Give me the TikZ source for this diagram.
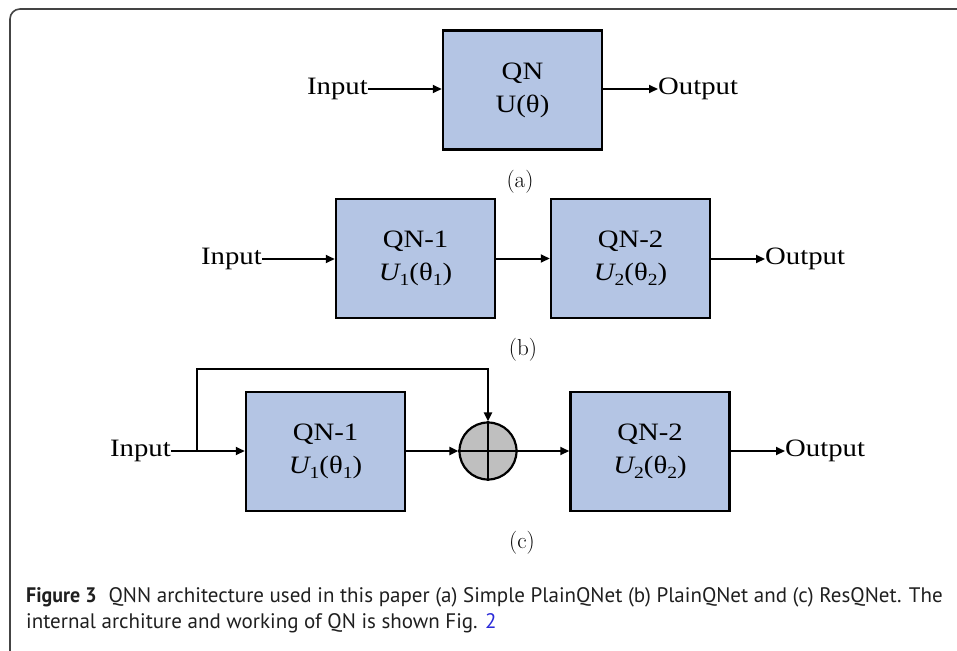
\documentclass[tikz,border=0pt]{standalone}
\usepackage{fontspec}
\usetikzlibrary{arrows.meta}
\newfontfamily\diagfont[FakeStretch=1.15]{Liberation Serif}
\newfontfamily\capfont{PT Sans}
\definecolor{qnblue}{HTML}{B4C5E4}
\definecolor{sumgray}{HTML}{BFBFBF}
\definecolor{framegray}{HTML}{444444}
\definecolor{linkblue}{HTML}{2A2AD8}
\newcommand\lowsub[1]{\raisebox{-4.5pt}{\fontsize{17}{17}\selectfont #1}}
\tikzset{
  qbox/.style={draw=black, line width=2.5pt, fill=qnblue, minimum width=159pt,
    minimum height=119pt, inner sep=0pt, align=center,
    font=\diagfont\fontsize{25}{33}\selectfont},
  term/.style={inner sep=0pt, font=\diagfont\fontsize{25}{28}\selectfont},
  sublabel/.style={inner sep=0pt, font=\fontsize{23}{26}\selectfont},
  sumnode/.style={circle, draw=black, line width=2.2pt, fill=sumgray,
    minimum size=57pt, inner sep=0pt},
  arr/.style={line width=2pt, -{Triangle[length=9pt,width=8pt]}},
  plain/.style={line width=2pt},
  captext/.style={anchor=base west, inner sep=0pt, text=black!88,
    font=\capfont\fontsize{21}{24}\selectfont},
}
\begin{document}
\begin{tikzpicture}[x=1pt,y=-1pt]
\useasboundingbox (0,0) rectangle (957,650);

% frame of the figure panel
\draw[framegray, line width=1.6pt, rounded corners=10pt] (10,655) -- (10,9) -- (962,9);

% (a) simple PlainQNet
\node[qbox] (qa) at (522.5,90) {QN\\U(θ)};
\node[term, anchor=east] (ina) at (368,89) {Input};
\node[term, anchor=west] (outa) at (658,89) {Output};
\draw[arr] (ina.east) -- (ina.east -| qa.west);
\draw[arr] (outa.west -| qa.east) -- (outa.west);
\node[sublabel] (laba) at (520,182) {(a)};

% (b) PlainQNet
\node[qbox] (qb1) at (415.5,258.5) {QN-1\\{\itshape U}\lowsub{1}(θ\lowsub{1})};
\node[qbox] (qb2) at (630.5,258.5) {QN-2\\{\itshape U}\lowsub{2}(θ\lowsub{2})};
\node[term, anchor=east] (inb) at (262,259) {Input};
\node[term, anchor=west] (outb) at (765,259) {Output};
\draw[arr] (inb.east) -- (inb.east -| qb1.west);
\draw[arr] (qb1.east) -- (qb2.west);
\draw[arr] (outb.west -| qb2.east) -- (outb.west);
\node[sublabel] (labb) at (523,350) {(b)};

% (c) ResQNet
\node[qbox] (qc1) at (325.5,451.5) {QN-1\\{\itshape U}\lowsub{1}(θ\lowsub{1})};
\node[sumnode] (sum) at (488,451) {};
\draw[line width=2pt] (sum.north) -- (sum.south) (sum.west) -- (sum.east);
\node[qbox] (qc2) at (650,451.5) {QN-2\\{\itshape U}\lowsub{2}(θ\lowsub{2})};
\node[term, anchor=east] (inc) at (171,451) {Input};
\node[term, anchor=west] (outc) at (785,451) {Output};
\coordinate (br) at (197,451);
\coordinate (fb) at (197,369);
\draw[plain] (inc.east) -- (br);
\draw[arr] (br) -- (br -| qc1.west);
\draw[arr] (br) -- (fb) -| (sum.north);
\draw[arr] (sum.west -| qc1.east) -- (sum.west);
\draw[arr] (sum.east) -- (sum.east -| qc2.west);
\draw[arr] (outc.west -| qc2.east) -- (outc.west);
\node[sublabel] (labc) at (522,543) {(c)};

% caption
\node[captext] (cap1) at (26,602)
  {\scalebox{0.95}[1]{\bfseries Figure 3}\hspace{12pt}QNN architecture used in this paper (a) Simple PlainQNet (b) PlainQNet and (c) ResQNet. The};
\node[captext] (cap2) at (26,628)
  {internal architure and working of QN is shown Fig. \textcolor{linkblue}{2}};
\end{tikzpicture}
\end{document}
